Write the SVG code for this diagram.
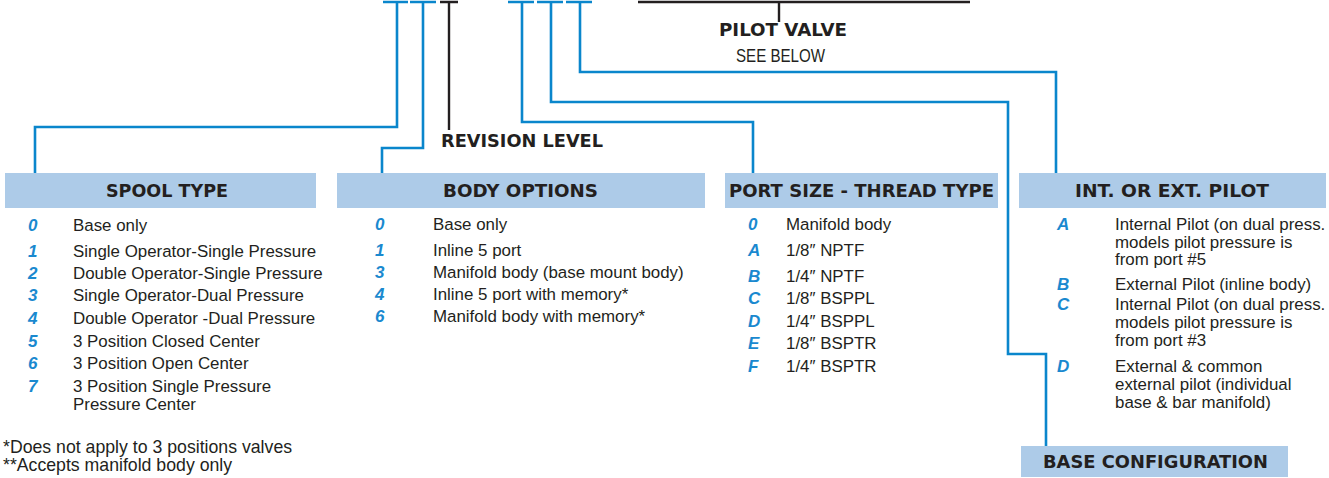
<svg xmlns="http://www.w3.org/2000/svg" width="1329" height="478" viewBox="0 0 1329 478">
<style>
.bl{fill:none;stroke:#0a86cc;stroke-width:2.6}
.bk{fill:none;stroke:#231f20;stroke-width:2.4}
.hd{fill:#adcbe8}
.ht{font-family:"DejaVu Sans",sans-serif;font-weight:bold;font-size:17px;fill:#231f20}
.tx{font-family:"Liberation Sans",Arial,sans-serif;font-size:16.9px;fill:#231f20}
.fn{font-family:"Liberation Sans",Arial,sans-serif;font-size:17.7px;fill:#231f20}
.nm{font-family:"Liberation Sans",Arial,sans-serif;font-size:17px;font-weight:bold;font-style:italic;fill:#1a89cf}
</style>
<g id="connectors">
<path class="bl" d="M383 2H408M397 2V127H35V173"/>
<path class="bl" d="M410 2H436M423 2V148H382V173"/>
<path class="bk" d="M440 2H458M449 2V130"/>
<path class="bl" d="M508 2H534M522 2V122H753V173"/>
<path class="bl" d="M537 2H563M551 2V102H1008V354H1046V447"/>
<path class="bl" d="M566 2H592M580 2V72H1056V173"/>
<path class="bk" d="M638 2H970M779 2V22"/>
</g>
<g id="pilot-valve">
<text class="ht" x="719" y="36" textLength="128" lengthAdjust="spacingAndGlyphs">PILOT VALVE</text>
<text class="fn" x="736" y="62" textLength="89" lengthAdjust="spacingAndGlyphs">SEE BELOW</text>
</g>
<g id="revision-level">
<text class="ht" x="441" y="147" textLength="162" lengthAdjust="spacingAndGlyphs">REVISION LEVEL</text>
</g>
<g id="spool-type">
<rect class="hd" x="5" y="173" width="311" height="35"/>
<text class="ht" x="106" y="197" textLength="122" lengthAdjust="spacingAndGlyphs">SPOOL TYPE</text>
<text class="nm" x="28" y="230.5">0</text><text class="tx" x="73" y="230.5">Base only</text>
<text class="nm" x="28" y="256.5">1</text><text class="tx" x="73" y="256.5">Single Operator-Single Pressure</text>
<text class="nm" x="28" y="279">2</text><text class="tx" x="73" y="279">Double Operator-Single Pressure</text>
<text class="nm" x="28" y="301">3</text><text class="tx" x="73" y="301">Single Operator-Dual Pressure</text>
<text class="nm" x="28" y="324">4</text><text class="tx" x="73" y="324">Double Operator -Dual Pressure</text>
<text class="nm" x="28" y="346.5">5</text><text class="tx" x="73" y="346.5">3 Position Closed Center</text>
<text class="nm" x="28" y="369">6</text><text class="tx" x="73" y="369">3 Position Open Center</text>
<text class="nm" x="28" y="391.5">7</text><text class="tx" x="73" y="391.5">3 Position Single Pressure</text>
<text class="tx" x="73" y="410">Pressure Center</text>
<text class="fn" x="3" y="452.5">*Does not apply to 3 positions valves</text>
<text class="fn" x="3" y="471">**Accepts manifold body only</text>
</g>
<g id="body-options">
<rect class="hd" x="337" y="173" width="368" height="35"/>
<text class="ht" x="443" y="197" textLength="155" lengthAdjust="spacingAndGlyphs">BODY OPTIONS</text>
<text class="nm" x="375" y="230">0</text><text class="tx" x="433" y="230">Base only</text>
<text class="nm" x="375" y="255.5">1</text><text class="tx" x="433" y="255.5">Inline 5 port</text>
<text class="nm" x="375" y="277.5">3</text><text class="tx" x="433" y="277.5">Manifold body (base mount body)</text>
<text class="nm" x="375" y="299.5">4</text><text class="tx" x="433" y="299.5">Inline 5 port with memory*</text>
<text class="nm" x="375" y="321.5">6</text><text class="tx" x="433" y="321.5">Manifold body with memory*</text>
</g>
<g id="port-size">
<rect class="hd" x="725" y="173" width="273" height="35"/>
<text class="ht" x="729" y="197" textLength="265" lengthAdjust="spacingAndGlyphs">PORT SIZE - THREAD TYPE</text>
<text class="nm" x="748" y="230">0</text><text class="tx" x="786" y="230">Manifold body</text>
<text class="nm" x="748" y="255.5">A</text><text class="tx" x="786" y="255.5">1/8″ NPTF</text>
<text class="nm" x="748" y="281.5">B</text><text class="tx" x="786" y="281.5">1/4″ NPTF</text>
<text class="nm" x="748" y="304">C</text><text class="tx" x="786" y="304">1/8″ BSPPL</text>
<text class="nm" x="748" y="326.5">D</text><text class="tx" x="786" y="326.5">1/4″ BSPPL</text>
<text class="nm" x="748" y="349">E</text><text class="tx" x="786" y="349">1/8″ BSPTR</text>
<text class="nm" x="748" y="371.5">F</text><text class="tx" x="786" y="371.5">1/4″ BSPTR</text>
</g>
<g id="int-ext-pilot">
<rect class="hd" x="1019" y="173" width="307" height="35"/>
<text class="ht" x="1075" y="197" textLength="194" lengthAdjust="spacingAndGlyphs">INT. OR EXT. PILOT</text>
<text class="nm" x="1057" y="230">A</text>
<text class="tx" x="1115" y="230">Internal Pilot (on dual press.</text>
<text class="tx" x="1115" y="247.5">models pilot pressure is</text>
<text class="tx" x="1115" y="265">from port #5</text>
<text class="nm" x="1057" y="290">B</text><text class="tx" x="1115" y="290">External Pilot (inline body)</text>
<text class="nm" x="1057" y="310">C</text>
<text class="tx" x="1115" y="310">Internal Pilot (on dual press.</text>
<text class="tx" x="1115" y="328">models pilot pressure is</text>
<text class="tx" x="1115" y="346">from port #3</text>
<text class="nm" x="1057" y="372">D</text>
<text class="tx" x="1115" y="372">External &amp; common</text>
<text class="tx" x="1115" y="390">external pilot (individual</text>
<text class="tx" x="1115" y="408">base &amp; bar manifold)</text>
</g>
<g id="base-configuration">
<rect class="hd" x="1021" y="446" width="267" height="31"/>
<text class="ht" x="1043" y="468" textLength="225" lengthAdjust="spacingAndGlyphs">BASE CONFIGURATION</text>
</g>
</svg>
